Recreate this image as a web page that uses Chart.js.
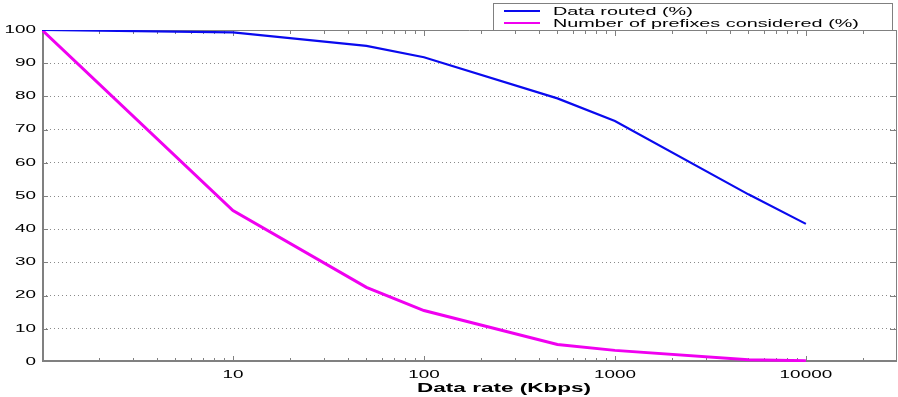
<!DOCTYPE html>
<html>
<head>
<meta charset="utf-8">
<script src="https://cdn.jsdelivr.net/npm/chart.js@4/dist/chart.umd.min.js"></script>
<style>
html,body{margin:0;padding:0;background:#fff;}
#wrap{width:898px;height:397px;}
</style>
</head>
<body>
<div id="wrap"><canvas id="c" width="898" height="397"></canvas></div>
<script>
// ---- data ----
const rates = [1, 10, 50, 100, 500, 1000, 5000, 10000];           // Kbps
const dataRouted = [100, 99.3, 95.2, 91.8, 79.4, 72.6, 50.5, 41.6];  // %
const prefixesConsidered = [100, 45.6, 22.5, 15.5, 5.3, 3.5, 0.7, 0.4]; // %
const xTickLabels = [10, 100, 1000, 10000];
const seriesLabels = ['Data routed (%)', 'Number of prefixes considered (%)'];
const xTitle = 'Data rate (Kbps)';

// ---- horizontally stretched text (the reference is a widened figure) ----
const STRETCH = 1.8;
const canvas = document.getElementById('c');
const ctx = canvas.getContext('2d');
ctx.fillText = function (t, x, y) {
  this.save();
  this.translate(x, y);
  this.scale(STRETCH, 1);
  CanvasRenderingContext2D.prototype.fillText.call(this, t, 0, 0);
  this.restore();
};
ctx.measureText = function (t) {
  const m = CanvasRenderingContext2D.prototype.measureText.call(this, t);
  return {
    width: m.width * STRETCH,
    actualBoundingBoxAscent: m.actualBoundingBoxAscent,
    actualBoundingBoxDescent: m.actualBoundingBoxDescent,
    actualBoundingBoxLeft: m.actualBoundingBoxLeft * STRETCH,
    actualBoundingBoxRight: m.actualBoundingBoxRight * STRETCH,
    fontBoundingBoxAscent: m.fontBoundingBoxAscent,
    fontBoundingBoxDescent: m.fontBoundingBoxDescent
  };
};

const FONT = "'Liberation Sans', Arial, sans-serif";
const FRAME = '#808080';

const framePlugin = {
  id: 'frame',
  beforeDatasetsDraw(chart) {
    const c = chart.ctx, a = chart.chartArea;
    const xs = chart.scales.x, ys = chart.scales.y;
    c.save();
    c.strokeStyle = FRAME;
    c.lineWidth = 1;
    c.beginPath();
    c.moveTo(a.left, a.top + 0.5); c.lineTo(a.right, a.top + 0.5);
    c.moveTo(a.right - 0.5, a.top); c.lineTo(a.right - 0.5, a.bottom);
    c.stroke();
    c.lineWidth = 2;
    c.beginPath();
    c.moveTo(a.left + 1, a.top); c.lineTo(a.left + 1, a.bottom);
    c.moveTo(a.left, a.bottom - 1); c.lineTo(a.right, a.bottom - 1);
    c.stroke();
    c.lineWidth = 1;
    c.beginPath();
    for (let d = 1; d <= 10000; d *= 10) {
      for (let k = 1; k <= 9; k++) {
        const v = d * k;
        if (v <= xs.min || v >= xs.max) continue;
        const px = Math.round(xs.getPixelForValue(v)) + 0.5;
        const len = (k === 1) ? 6 : 4;
        c.moveTo(px, a.bottom); c.lineTo(px, a.bottom - len);
        c.moveTo(px, a.top); c.lineTo(px, a.top + len);
      }
    }
    for (let v = 10; v < 100; v += 10) {
      const py = Math.round(ys.getPixelForValue(v)) + 0.5;
      c.moveTo(a.left, py); c.lineTo(a.left + 6, py);
      c.moveTo(a.right, py); c.lineTo(a.right - 7, py);
    }
    c.stroke();
    c.restore();
  }
};

const textPlugin = {
  id: 'texts',
  afterDraw(chart) {
    const c = chart.ctx;
    c.save();
    // x-axis title
    c.fillStyle = '#000';
    c.font = "bold 12.5px " + FONT;
    c.textAlign = 'center';
    c.textBaseline = 'middle';
    c.fillText(xTitle, 504, 389);
    // legend box
    const bx = 493, by = 3, bw = 400, bh = 27;
    c.fillStyle = '#fff';
    c.fillRect(bx, by, bw, bh);
    c.strokeStyle = FRAME;
    c.lineWidth = 1;
    c.strokeRect(bx + 0.5, by + 0.5, bw - 1, bh);
    chart.data.datasets.forEach((ds, i) => {
      const y = 11 + i * 12;
      c.strokeStyle = ds.borderColor;
      c.lineWidth = 2;
      c.beginPath();
      c.moveTo(504, y); c.lineTo(540, y);
      c.stroke();
      c.fillStyle = '#000';
      c.font = "11px " + FONT;
      c.textAlign = 'left';
      c.textBaseline = 'middle';
      c.fillText(ds.label, 553, y + 0.5);
    });
    c.restore();
  }
};

new Chart(canvas, {
  type: 'line',
  data: {
    datasets: [
      {
        label: seriesLabels[0],
        data: rates.map((r, i) => ({ x: r, y: dataRouted[i] })),
        borderColor: '#0a0aee',
        backgroundColor: '#0a0aee',
        borderWidth: 2.2,
        pointRadius: 0,
        tension: 0,
        fill: false
      },
      {
        label: seriesLabels[1],
        data: rates.map((r, i) => ({ x: r, y: prefixesConsidered[i] })),
        borderColor: '#f000f0',
        backgroundColor: '#f000f0',
        borderWidth: 3,
        pointRadius: 0,
        tension: 0,
        fill: false
      }
    ]
  },
  options: {
    responsive: false,
    animation: false,
    devicePixelRatio: 1,
    layout: { padding: { top: 30, right: 1, left: 0, bottom: 0 } },
    plugins: { legend: { display: false }, tooltip: { enabled: false } },
    scales: {
      x: {
        type: 'logarithmic',
        min: 1,
        max: 30000,
        afterFit: s => { s.height = 35; },
        afterBuildTicks: s => { s.ticks = xTickLabels.map(v => ({ value: v })); },
        grid: { display: false },
        border: { display: false },
        ticks: {
          autoSkip: false,
          maxRotation: 0,
          padding: -1,
          color: '#000',
          font: { family: FONT, size: 10.5 },
          callback: v => String(v)
        },
        title: { display: false }
      },
      y: {
        min: 0,
        max: 100,
        afterFit: s => { s.width = 42; },
        grid: {
          drawTicks: false,
          color: ctx => (ctx.tick && (ctx.tick.value === 0 || ctx.tick.value === 100)) ? 'rgba(0,0,0,0)' : '#8a8a8a',
          lineWidth: 1
        },
        border: { display: false, dash: [1, 3] },
        ticks: {
          stepSize: 10,
          padding: 6,
          color: '#000',
          font: { family: FONT, size: 10.5 }
        }
      }
    }
  },
  plugins: [framePlugin, textPlugin]
});
</script>
</body>
</html>
